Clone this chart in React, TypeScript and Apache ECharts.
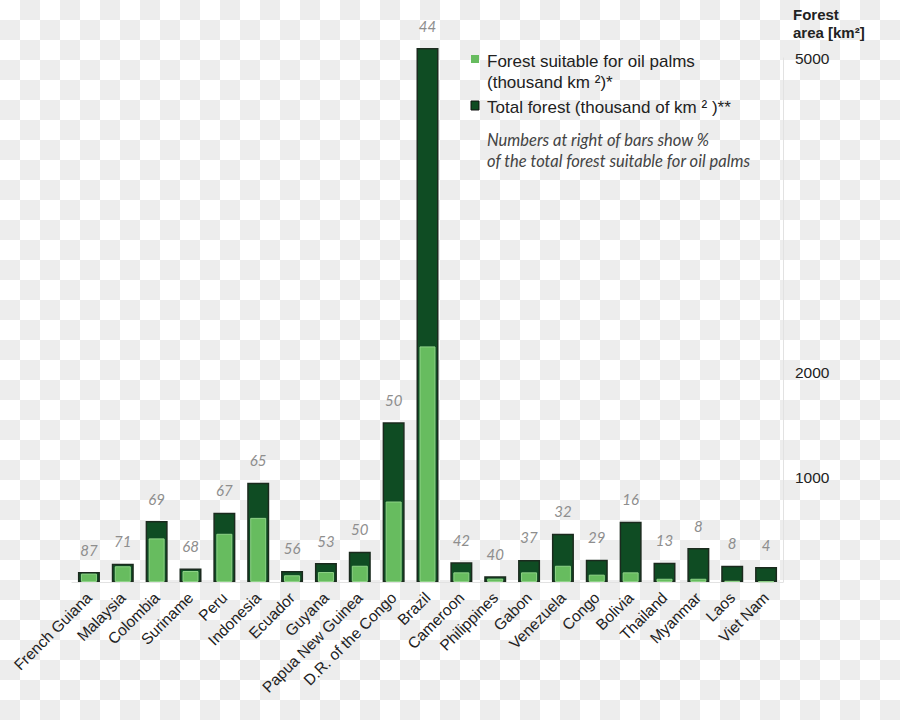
import React, { useEffect, useRef } from "react";
import * as echarts from "echarts";

const countries = [
  "French Guiana", "Malaysia", "Colombia", "Suriname", "Peru", "Indonesia", "Ecuador",
  "Guyana", "Papua New Guinea", "D.R. of the Congo", "Brazil", "Cameroon", "Philippines",
  "Gabon", "Venezuela", "Congo", "Bolivia", "Thailand", "Myanmar", "Laos", "Viet Nam",
];
const totalForest = [95, 174, 581, 130, 660, 946, 105, 181, 289, 1524, 5095, 188, 55, 210, 460, 212, 574, 184, 324, 155, 143];
const suitableForest = [80, 150, 416, 105, 460, 612, 64, 95, 155, 768, 2248, 92, 32, 92, 155, 70, 92, 31, 31, 12, 6];
const suitablePct = [87, 71, 69, 68, 67, 65, 56, 53, 50, 50, 44, 42, 40, 37, 32, 29, 16, 13, 8, 8, 4];
const yTickLabels = [1000, 2000, 5000];

const DARK = "#0f4c23";
const LIGHT = "#67bc5f";
const SANS = "'Liberation Sans', Arial, sans-serif";

export default function App() {
  const ref = useRef<HTMLDivElement>(null);
  useEffect(() => {
    const chart = echarts.init(ref.current!, null, { renderer: "svg" });
    chart.setOption({
      animation: false,
      backgroundColor: "transparent",
      grid: { left: 72, right: 117, top: 58, bottom: 138, containLabel: false },
      xAxis: [
        {
          type: "category",
          data: countries,
          axisLine: { show: true, lineStyle: { color: "#e2e2e2", width: 1 } },
          axisTick: { show: false },
          axisLabel: {
            interval: 0,
            rotate: 45,
            margin: 13,
            fontSize: 15.5,
            fontFamily: SANS,
            color: "#222",
          },
        },
        {
          type: "category",
          data: countries,
          show: false,
          position: "bottom",
        },
      ],
      yAxis: {
        type: "value",
        position: "right",
        min: 0,
        max: 5000,
        interval: 1000,
        splitLine: { show: false },
        axisLine: { show: true, lineStyle: { color: "#e2e2e2", width: 1 } },
        axisTick: { show: false },
        axisLabel: {
          margin: 12,
          fontSize: 15.5,
          fontFamily: SANS,
          color: "#222",
          formatter: (v: number) => (yTickLabels.includes(v) ? String(v) : ""),
        },
      },
      series: [
        {
          name: "Total forest (thousand of km²)**",
          type: "bar",
          xAxisIndex: 0,
          data: totalForest,
          barWidth: 22,
          clip: false,
          itemStyle: { color: DARK, borderColor: "#1b2a1e", borderWidth: 1.5 },
          label: {
            show: true,
            position: "top",
            distance: 15,
            formatter: (p: any) => String(suitablePct[p.dataIndex]),
            color: "#8e8e8e",
            fontStyle: "italic",
            fontSize: 15,
            fontFamily: "Lato, 'Open Sans', sans-serif",
          },
          z: 2,
        },
        {
          name: "Forest suitable for oil palms (thousand km²)*",
          type: "bar",
          xAxisIndex: 1,
          data: suitableForest,
          barWidth: 16,
          clip: false,
          itemStyle: { color: LIGHT, borderColor: "#8fd388", borderWidth: 1 },
          z: 3,
        },
      ],
      graphic: [
        { type: "rect", shape: { x: 471, y: 55, width: 8, height: 8 }, style: { fill: LIGHT } },
        {
          type: "text", x: 487, y: 61,
          style: { text: "Forest suitable for oil palms", fontSize: 17, fontFamily: SANS, fill: "#222", verticalAlign: "middle" },
        },
        {
          type: "text", x: 487, y: 82,
          style: { text: "(thousand km ²)*", fontSize: 17, fontFamily: SANS, fill: "#222", verticalAlign: "middle" },
        },
        { type: "rect", shape: { x: 471, y: 101, width: 8, height: 9 }, style: { fill: DARK, stroke: "#111", lineWidth: 1 } },
        {
          type: "text", x: 487, y: 107,
          style: { text: "Total forest (thousand of km ² )**", fontSize: 17, fontFamily: SANS, fill: "#222", verticalAlign: "middle" },
        },
        {
          type: "text", x: 487, y: 140,
          style: { text: "Numbers at right of bars show %", fontSize: 16.5, fontStyle: "italic", fontFamily: "Lato, sans-serif", fill: "#444", verticalAlign: "middle" },
        },
        {
          type: "text", x: 487, y: 161,
          style: { text: "of the total forest suitable for oil palms", fontSize: 16.5, fontStyle: "italic", fontFamily: "Lato, sans-serif", fill: "#444", verticalAlign: "middle" },
        },
        {
          type: "text", x: 793, y: 14,
          style: { text: "Forest", fontSize: 15, fontWeight: "bold", fontFamily: SANS, fill: "#222", verticalAlign: "middle" },
        },
        {
          type: "text", x: 793, y: 32,
          style: { text: "area [km²]", fontSize: 15, fontWeight: "bold", fontFamily: SANS, fill: "#222", verticalAlign: "middle" },
        },
      ],
    });
    return () => chart.dispose();
  }, []);
  return (
    <div
      style={{
        position: "absolute",
        left: 0,
        top: 0,
        width: 900,
        height: 720,
        backgroundColor: "#ffffff",
        backgroundImage: "conic-gradient(#ededed 0 25%, #ffffff 0 50%, #ededed 0 75%, #ffffff 0)",
        backgroundSize: "40px 40px",
      }}
    >
      <div ref={ref} style={{ width: 900, height: 720 }} />
    </div>
  );
}
